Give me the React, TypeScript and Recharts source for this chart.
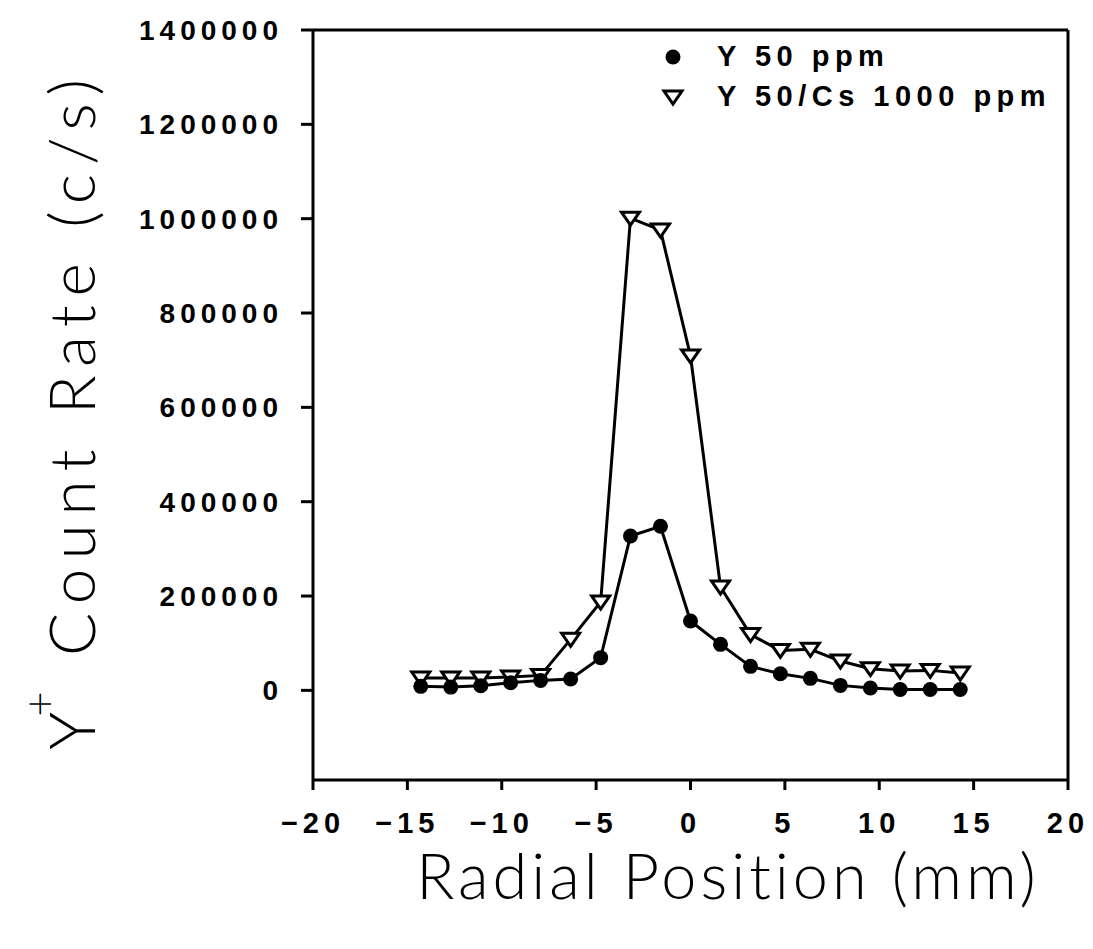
import {
  Label,
  Legend,
  Line,
  LineChart,
  ReferenceLine,
  XAxis,
  YAxis,
} from "recharts";

if (typeof document !== "undefined") {
  document.body.style.margin = "0";
}

// radial positions, 1/16 inch steps (mm)
const positions = [
  -14.29, -12.7, -11.11, -9.53, -7.94, -6.35, -4.76, -3.18, -1.59, 0, 1.59, 3.18, 4.76, 6.35,
  7.94, 9.53, 11.11, 12.7, 14.29,
];
const y50 = [
  8500, 7000, 10000, 16300, 21200, 24000, 69400, 327300, 347900, 147000, 97600, 50900, 35400,
  25500, 10600, 5000, 2000, 2000, 2000,
];
const y50cs = [
  26100, 26100, 26100, 28200, 31800, 108200, 187300, 1001000, 975800, 709000, 219100, 118200,
  84800, 87000, 62200, 46000, 41000, 42400, 36700,
];
const seriesNames = ["Y 50 ppm", "Y 50/Cs 1000 ppm"];
const xTicks = [-20, -15, -10, -5, 0, 5, 10, 15, 20];
const yTicks = [0, 200000, 400000, 600000, 800000, 1000000, 1200000, 1400000];

const rows = positions.map((x, i) => ({ x, y50: y50[i], y50cs: y50cs[i] }));

const tickFont = "'Liberation Sans', Arial, sans-serif";
const titleFont = "Lato, 'Open Sans', sans-serif";
const axisStyle = { stroke: "#000", strokeWidth: 3 };

const fmt = (v: number) => String(v).replace("-", "\u2212");

function InvTriangle({ cx, cy }: { cx?: number; cy?: number }) {
  if (cx == null || cy == null) return null;
  return (
    <path
      d={`M${cx - 9},${cy - 6}L${cx + 9},${cy - 6}L${cx},${cy + 7}Z`}
      fill="#fff"
      stroke="#000"
      strokeWidth={3}
    />
  );
}

function LegendBox() {
  return (
    <svg width={430} height={80} style={{ display: "block" }}>
      <circle cx={18} cy={19} r={7.5} fill="#000" />
      <InvTriangle cx={18} cy={59} />
      <text
        x={62}
        y={27.5}
        fontFamily={tickFont}
        fontWeight="bold"
        fontSize={29}
        letterSpacing={5.5}
        fill="#000"
      >
        {seriesNames[0]}
      </text>
      <text
        x={62}
        y={68}
        fontFamily={tickFont}
        fontWeight="bold"
        fontSize={29}
        letterSpacing={5.5}
        fill="#000"
      >
        {seriesNames[1]}
      </text>
    </svg>
  );
}

export default function App() {
  return (
    <div style={{ width: 1093, height: 949, background: "#fff" }}>
      <LineChart
        width={1093}
        height={949}
        data={rows}
        margin={{ top: 30, right: 25, bottom: 0, left: 0 }}
      >
        <XAxis
          dataKey="x"
          type="number"
          domain={[-20, 20]}
          ticks={xTicks}
          tickFormatter={fmt}
          height={169}
          axisLine={axisStyle}
          tickLine={axisStyle}
          tickSize={10}
          tickMargin={22}
          tick={{
            fill: "#000",
            fontSize: 29,
            fontWeight: "bold",
            fontFamily: tickFont,
            letterSpacing: 5,
          }}
          label={
            <Label
              content={() => (
                <text
                  x={728}
                  y={899}
                  textAnchor="middle"
                  fontFamily={titleFont}
                  fontWeight={300}
                  fontSize={63}
                  letterSpacing={4}
                  fill="#000"
                >
                  Radial Position (mm)
                </text>
              )}
            />
          }
        />
        <YAxis
          type="number"
          domain={[-190000, 1400000]}
          ticks={yTicks}
          width={313}
          axisLine={axisStyle}
          tickLine={axisStyle}
          tickSize={12}
          tickMargin={18}
          interval={0}
          tick={{
            fill: "#000",
            fontSize: 28,
            fontWeight: "bold",
            fontFamily: tickFont,
            letterSpacing: 5,
          }}
          label={
            <Label
              content={() => (
                <text
                  x={95}
                  y={410}
                  transform="rotate(-90, 95, 410)"
                  textAnchor="middle"
                  fontFamily={titleFont}
                  fontWeight={300}
                  fontSize={64}
                  letterSpacing={9}
                  fill="#000"
                >
                  Y
                  <tspan dy={-40} dx={-14} fontSize={44} fill="#000">
                    +
                  </tspan>
                  <tspan dy={40}> Count Rate (c/s)</tspan>
                </text>
              )}
            />
          }
        />
        <ReferenceLine y={1400000} stroke="#000" strokeWidth={3} />
        <ReferenceLine x={20} stroke="#000" strokeWidth={3} />
        <Legend
          layout="vertical"
          align="center"
          verticalAlign="middle"
          wrapperStyle={{ top: 38, left: 655, width: 430, height: 80 }}
          content={() => <LegendBox />}
        />
        <Line
          type="linear"
          dataKey="y50cs"
          name={seriesNames[1]}
          stroke="#000"
          strokeWidth={3}
          dot={(p: any) => <InvTriangle key={`t${p.index}`} cx={p.cx} cy={p.cy} />}
          isAnimationActive={false}
        />
        <Line
          type="linear"
          dataKey="y50"
          name={seriesNames[0]}
          stroke="#000"
          strokeWidth={3}
          dot={{ r: 7.5, fill: "#000", stroke: "#000", strokeWidth: 0 }}
          isAnimationActive={false}
        />
      </LineChart>
    </div>
  );
}
